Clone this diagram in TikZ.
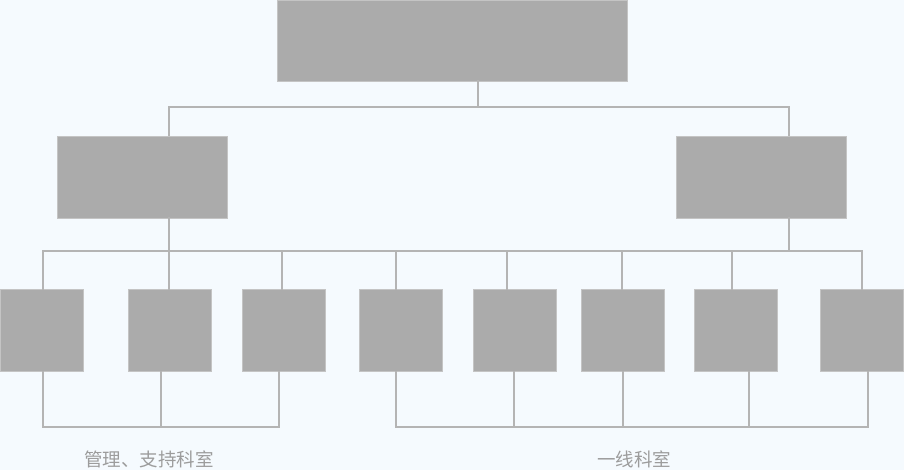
\documentclass[tikz,border=0pt]{standalone}
\usepackage{fontspec}
\newfontfamily\cjk{Noto Sans CJK SC}

\definecolor{Fond}{HTML}{F5FAFE}
\definecolor{BoxGray}{HTML}{ABABAB}
\definecolor{BoxEdge}{HTML}{C4C4C4}
\definecolor{LinkGray}{HTML}{B4B4B4}
\definecolor{TextGray}{HTML}{9C9C9C}

\tikzset{
  box/.style={rectangle, fill=BoxGray, draw=BoxEdge, line width=0.8, inner sep=0,
              minimum width=83, minimum height=82},
  link/.style={draw=LinkGray, line width=1.8, line cap=rect},
  lbl/.style={text=TextGray, font=\cjk\fontsize{18.5}{18.5}\selectfont, inner sep=0}
}

\begin{document}
\begin{tikzpicture}[x=1pt, y=-1pt]

  %%%%%%%%%% Fond %%%%%%%%%%
  \fill [Fond] (0,0) rectangle (904,470);
  \useasboundingbox (0,0) rectangle (904,470);

  %%%%%%%%%% Boites %%%%%%%%%%
  \node [box, minimum width=350, minimum height=81] (top) at (452,40.5) {};
  \node [box, minimum width=170] (mleft) at (142,177) {};
  \node [box, minimum width=170] (mright) at (761,177) {};

  \node [box] (b1) at (41.5,330) {};
  \node [box] (b2) at (169.5,330) {};
  \node [box] (b3) at (283.5,330) {};
  \node [box] (b4) at (400.5,330) {};
  \node [box] (b5) at (514.5,330) {};
  \node [box] (b6) at (622.5,330) {};
  \node [box] (b7) at (736,330) {};
  \node [box] (b8) at (861.5,330) {};

  %%%%%%%%%% Points pour travailler %%%%%%%%%%
  \coordinate (s0) at (478,107);
  \coordinate (t1) at (169,107);
  \coordinate (t2) at (789,107);
  \coordinate (m1) at (169,251);
  \coordinate (m2) at (789,251);
  \coordinate (g1) at (43,251);
  \coordinate (g2) at (862,251);

  %%%%%%%%%% Premier niveau %%%%%%%%%%
  \draw [link] (top.south -| s0) -- (s0) ;
  \draw [link] (t1) -- (t2) ;
  \draw [link] (t1) -- (t1 |- mleft.north) ;
  \draw [link] (t2) -- (t2 |- mright.north) ;

  %%%%%%%%%% Second niveau %%%%%%%%%%
  \draw [link] (mleft.south -| m1) -- (m1) ;
  \draw [link] (mright.south -| m2) -- (m2) ;
  \draw [link] (g1) -- (g2) ;
  \foreach \x/\n in {43/b1, 169/b2, 282/b3, 396/b4, 507/b5, 622/b6, 732/b7, 862/b8}
  {
    \coordinate (d\n) at (\x,251);
    \draw [link] (d\n) -- (d\n |- \n.north) ;
  }

  %%%%%%%%%% Regroupements %%%%%%%%%%
  \foreach \x/\n in {43/b1, 161/b2, 279/b3, 396/b4, 514/b5, 623/b6, 749/b7, 868/b8}
  {
    \coordinate (u\n) at (\x,427);
    \draw [link] (\n.south -| u\n) -- (u\n) ;
  }
  \draw [link] (ub1) -- (ub3) ;
  \draw [link] (ub4) -- (ub8) ;

  %%%%%%%%%% Textes %%%%%%%%%%
  \node [lbl] (lblleft) at (149,459) {管理、支持科室};
  \node [lbl] (lblright) at (634,459) {一线科室};

\end{tikzpicture}
\end{document}
